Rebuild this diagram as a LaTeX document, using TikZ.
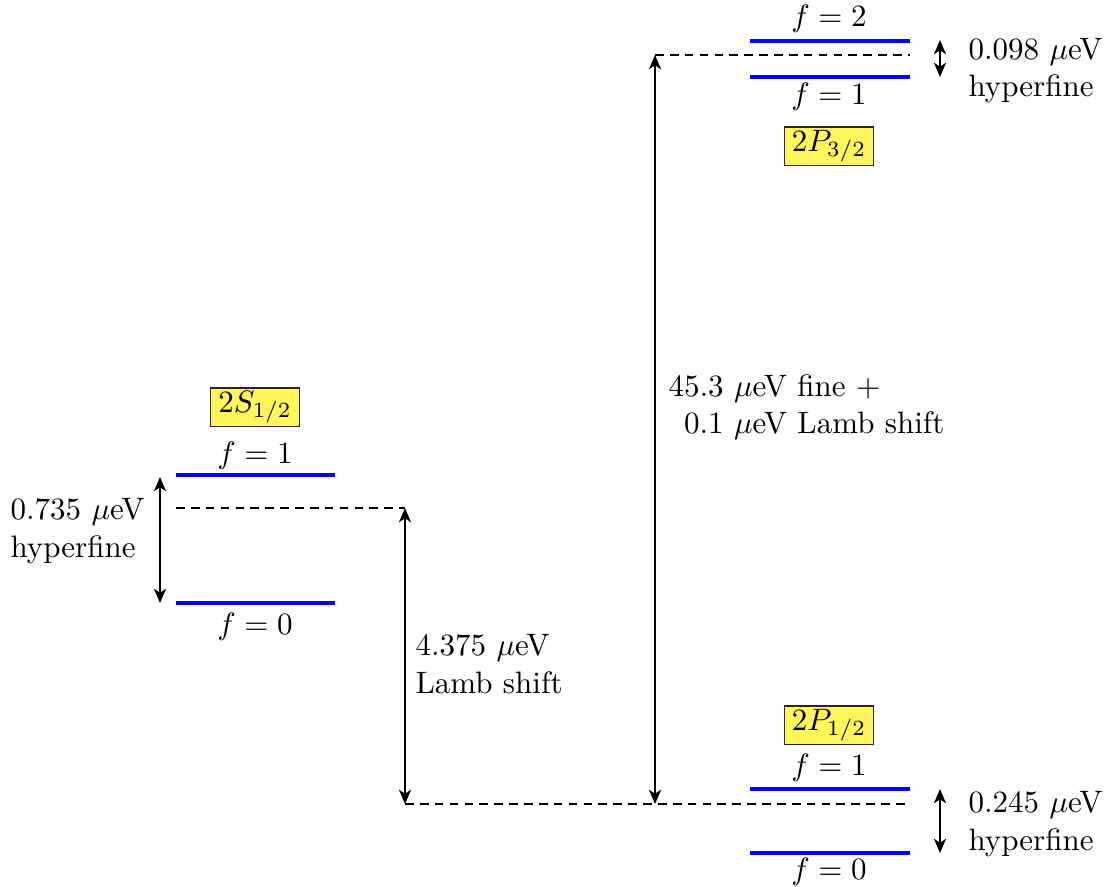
\documentclass[tikz,border=0pt]{standalone}
\usetikzlibrary{arrows.meta}
\begin{document}
\begin{tikzpicture}[x=0.3226pt,y=-0.3226pt,
  level/.style={blue,line width=1.1pt},
  guide/.style={line width=0.5pt,dash pattern=on 2.8pt off 2pt},
  gap/.style={line width=0.65pt,{Stealth[length=4.6pt,width=3.9pt,inset=1.3pt]}-{Stealth[length=4.6pt,width=3.9pt,inset=1.3pt]}},
  term/.style={draw=black!85,fill=yellow!65,line width=0.45pt,inner sep=1pt,minimum width=28.8pt,minimum height=11pt},
  flab/.style={inner sep=0pt},
  note/.style={align=left,inner sep=0pt}]
\useasboundingbox (0,0) rectangle (1109,886);

% ---- 2S_{1/2} ----
\coordinate (s1a) at (176,475); \coordinate (s1b) at (335,475);
\coordinate (s0a) at (176,603); \coordinate (s0b) at (335,603);
\draw[level] (s1a) -- (s1b);
\draw[level] (s0a) -- (s0b);
\node[flab] (s1t) at (255,456) {$f=1$};
\node[flab] (s0t) at (255,627) {$f=0$};
\node[term] (sterm) at (255,407) {$2S_{1/2}$};
\coordinate (shfa) at (160,477); \coordinate (shfb) at (160,603);
\draw[gap] (shfa) -- (shfb);
\node[note,anchor=north west] (shft) at (10,498) {$0.735~\mu$eV\\hyperfine};
\coordinate (sc) at (176,508); \coordinate (lambtop) at (405,508);
\draw[guide] (sc) -- (lambtop);

% ---- 2P_{1/2} ----
\coordinate (p1a) at (750,789); \coordinate (p1b) at (910,789);
\coordinate (p0a) at (750,853); \coordinate (p0b) at (910,853);
\draw[level] (p1a) -- (p1b);
\draw[level] (p0a) -- (p0b);
\node[flab] (p1t) at (829,768) {$f=1$};
\node[flab] (p0t) at (829,872) {$f=0$};
\node[term] (pterm) at (829,725) {$2P_{1/2}$};
\coordinate (phfa) at (940,789); \coordinate (phfb) at (940,853);
\draw[gap] (phfa) -- (phfb);
\node[note,anchor=north west] (phft) at (968,791) {$0.245~\mu$eV\\hyperfine};
\coordinate (lambbot) at (405,804); \coordinate (finebot) at (655,804);
\coordinate (pc) at (910,804);
\draw[guide] (lambbot) -- (pc);

% ---- 2P_{3/2} ----
\coordinate (q2a) at (750,41); \coordinate (q2b) at (910,41);
\coordinate (q1a) at (750,77); \coordinate (q1b) at (910,77);
\draw[level] (q2a) -- (q2b);
\draw[level] (q1a) -- (q1b);
\node[flab] (q2t) at (829,19) {$f=2$};
\node[flab] (q1t) at (829,97) {$f=1$};
\node[term] (qterm) at (829,146) {$2P_{3/2}$};
\coordinate (qhfa) at (940,40); \coordinate (qhfb) at (940,77);
\draw[gap] (qhfa) -- (qhfb);
\node[note,anchor=north west] (qhft) at (968,38) {$0.098~\mu$eV\\hyperfine};
\coordinate (finetop) at (655,55); \coordinate (qc) at (910,55);
\draw[guide] (finetop) -- (qc);

% ---- splittings between the terms ----
\draw[gap] (lambtop) -- (lambbot);
\node[note,anchor=north west] (lambt) at (415,634) {$4.375~\mu$eV\\Lamb shift};
\draw[gap] (finetop) -- (finebot);
\node[note,anchor=north west] (finet) at (668,374) {$45.3~\mu$eV fine $+$\\\hspace{5pt}$0.1~\mu$eV Lamb shift};
\end{tikzpicture}
\end{document}
